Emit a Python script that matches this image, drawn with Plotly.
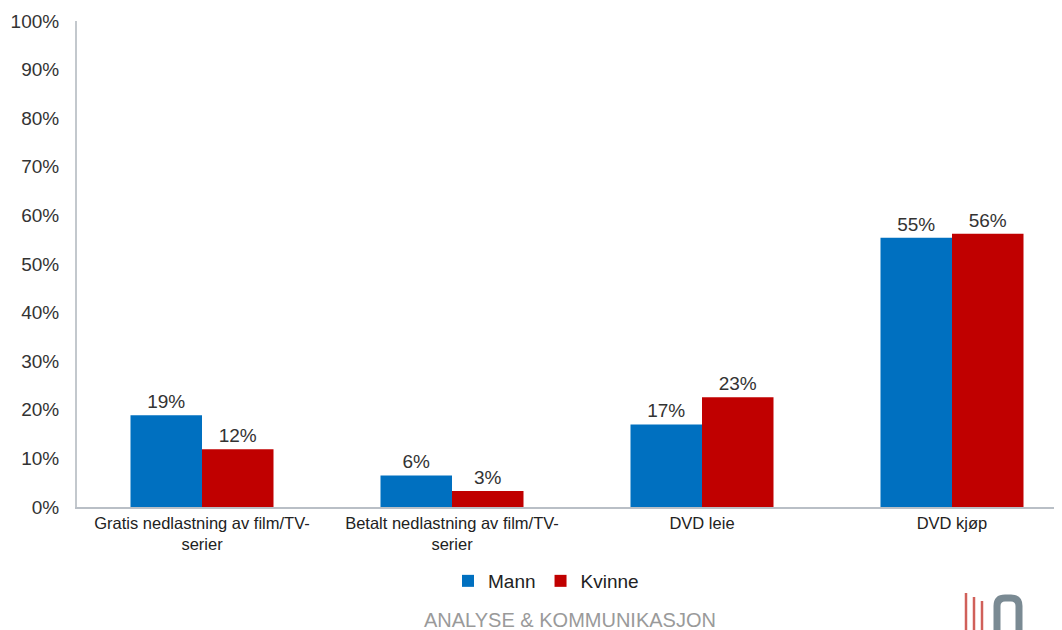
import plotly.graph_objects as go

categories = ["Gratis nedlastning av film/TV-<br>serier", "Betalt nedlastning av film/TV-<br>serier", "DVD leie", "DVD kjøp"]
mann = [18.9, 6.5, 17.0, 55.4]
kvinne = [11.9, 3.3, 22.6, 56.2]
mann_labels = ["19%", "6%", "17%", "55%"]
kvinne_labels = ["12%", "3%", "23%", "56%"]

BLUE = "#0070c0"
RED = "#c00000"
FONT = "Liberation Sans, Arial, sans-serif"

fig = go.Figure()
fig.add_bar(x=categories, y=mann, name="Mann", marker_color=BLUE, marker_line_width=0,
            text=mann_labels, textposition="outside", cliponaxis=False,
            textfont=dict(size=19, color="#333333", family=FONT))
fig.add_bar(x=categories, y=kvinne, name="Kvinne", marker_color=RED, marker_line_width=0,
            text=kvinne_labels, textposition="outside", cliponaxis=False,
            textfont=dict(size=19, color="#333333", family=FONT))

# page body has an 8px margin; figure sized to fill the rest of the 1062x630 window
OFF = 8
W, H = 1062 - OFF, 630 - OFF
L, R, T, B = 69, 0, 13, 123
pw, ph = W - L - R, H - T - B
def px(x): return (x - OFF - L) / pw
def py(y): return (H - B - (y - OFF)) / ph

shapes = []
# logo red lines
for x0, y0 in [(966, 593), (974, 597), (982, 601)]:
    shapes.append(dict(type="line", xref="paper", yref="paper", x0=px(x0), x1=px(x0),
                       y0=py(y0), y1=py(632), line=dict(color="#d0605a", width=2.5)))
# logo gray O
shapes.append(dict(type="path", xref="paper", yref="paper",
                   path=f"M {px(997)},{py(634)} L {px(997)},{py(606)} Q {px(997)},{py(598)} {px(1005)},{py(598)} "
                        f"L {px(1011)},{py(598)} Q {px(1019)},{py(598)} {px(1019)},{py(606)} L {px(1019)},{py(634)}",
                   line=dict(color="#7a8a93", width=7), fillcolor="rgba(0,0,0,0)"))

fig.update_layout(
    width=W, height=H,
    margin=dict(l=L, r=R, t=T, b=B),
    paper_bgcolor="white", plot_bgcolor="white",
    barmode="group", bargap=0.428, bargroupgap=0,
    font=dict(family=FONT, color="#333333"),
    showlegend=True,
    legend=dict(orientation="h", x=px(546), xanchor="center", y=py(581), yanchor="middle",
                font=dict(size=19, color="#222222", family=FONT), itemwidth=30,
                traceorder="normal", tracegroupgap=0),
    xaxis=dict(showline=True, linecolor="#b9bfc6", linewidth=2, ticks="", showgrid=False,
               range=[-0.5, 3.44],
               tickfont=dict(size=16.5, color="#222222", family=FONT)),
    yaxis=dict(range=[0, 100], dtick=10, ticksuffix="%", showline=True, linecolor="#c3c8cd",
               linewidth=2, ticks="", showgrid=False, zeroline=False, ticklabelstandoff=12,
               tickfont=dict(size=19, color="#333333", family=FONT)),
    shapes=shapes,
    annotations=[dict(text="ANALYSE &amp; KOMMUNIKASJON", xref="paper", yref="paper",
                      x=px(570), y=py(620), xanchor="center", yanchor="middle", showarrow=False,
                      font=dict(size=20, color="#9a9a9a", family="Liberation Sans Narrow, Arial Narrow, sans-serif"))],
)

fig.write_html("out.html")
